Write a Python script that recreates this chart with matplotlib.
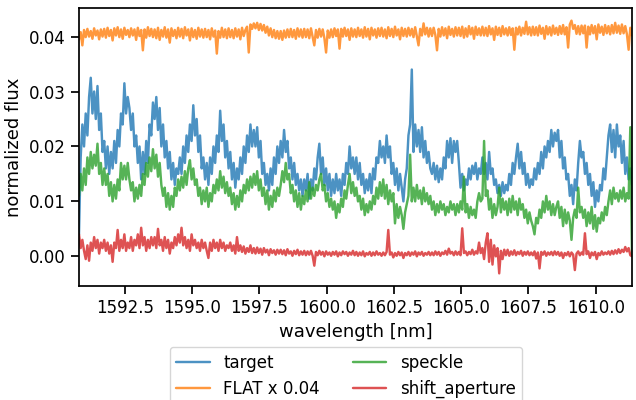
import numpy as np
import matplotlib
matplotlib.use("Agg")
import matplotlib.pyplot as plt
import seaborn as sns

# wavelength grid [nm]
wl_start, wl_end = 1590.80, 1611.35

# series values in units of 1e-3 (normalized flux), 15 samples per row
target = [
    [4, 18, 24, 20, 26, 22, 29, 32.5, 26, 30, 25, 31, 23, 26, 19],
    [21, 16, 20, 15, 19, 16, 21, 17, 23, 20, 26, 24, 31.5, 26, 29],
    [27, 23, 26, 20, 22, 17, 20, 14, 19, 15, 21, 17, 24, 22, 28],
    [25, 29, 23, 27, 20, 24, 18, 21, 16, 19, 14, 17, 13, 16, 15],
    [18, 15, 20, 17, 22, 19, 24, 21, 27.5, 22, 25, 19, 22, 16, 18],
    [14, 17, 13, 18, 15, 20, 17, 22, 19, 26.5, 21, 24, 18, 21, 16],
    [19, 14, 17, 12.5, 16, 14, 18, 15, 20, 17, 22, 19, 24, 20, 23],
    [20, 23.5, 18, 21, 15, 17, 13, 15, 12, 16, 13, 18, 15, 20, 17],
    [21, 18, 23, 19, 21, 16, 18, 14, 17, 13, 15, 12, 14, 11, 14],
    [12, 15, 10.5, 14, 12, 16, 14, 18, 20.5, 15, 18, 13, 16, 12, 15],
    [11, 14, 11.5, 15, 12, 14, 11, 15, 13, 17, 15, 20, 16, 18, 15],
    [18, 14, 17, 13, 15, 11.5, 14, 12, 15, 11.5, 16, 14, 18, 17, 21],
    [18, 20, 17, 22, 18, 20, 15, 17, 13, 16, 12, 15, 12.5, 10, 14],
    [16, 22, 24, 34, 19, 24, 20, 23, 19, 23.5, 18, 21, 17, 19, 16],
    [15, 17, 14, 16.5, 13.5, 16, 14, 18, 16, 21, 18, 21.5, 17, 21, 19],
    [21, 17, 12.5, 15, 12, 14, 13, 16, 14, 16.5, 15, 17, 14, 16, 15],
    [18, 15, 17, 14, 19, 15, 16, 13, 14, 11.5, 13, 11, 13.5, 11.5, 13],
    [12, 15, 13, 17, 15, 18, 20.5, 16, 19, 15, 17, 13, 15, 12.5, 14],
    [13, 16, 14, 17, 15, 19, 16, 20, 18, 21, 19, 23, 20, 22.5, 21],
    [23, 18, 21, 16, 18, 14, 15, 11, 13, 9.5, 14, 12, 17, 21, 18],
    [19, 15, 17, 13, 15, 11, 13.5, 9, 12, 10, 13, 12, 16, 14, 18],
    [22, 24, 19, 23, 18, 24, 20, 22, 17, 21, 15, 18, 14, 16, 13],
]

flat = [
    [39.5, 40.8, 38.4, 41.2, 39.9, 41.4, 40, 41, 39.6, 41.5, 40.2, 41.1, 39.5, 41.3, 40],
    [41.4, 39.8, 41.6, 40.1, 41.2, 39.3, 41.5, 40.2, 41.7, 39.9, 41.3, 39.6, 41.6, 40.3, 41.2],
    [39.9, 41.5, 40.2, 41.3, 39.4, 41.6, 40.1, 41.2, 37.5, 41.3, 39.8, 41.7, 40.1, 41.4, 39.9],
    [41.3, 39.7, 41.6, 39.4, 41.2, 40, 41.7, 39.8, 41.3, 38.9, 41.5, 40.1, 41.2, 39.7, 41.6],
    [40, 41.4, 39.7, 41.7, 40.2, 41.3, 39.3, 41.5, 39.9, 41.2, 39.6, 41.6, 40, 41.3, 39.8],
    [41.4, 39.9, 41.2, 39.5, 41.5, 40, 41.1, 36.9, 41, 39.8, 41.6, 39.9, 41.3, 39.7, 41.5],
    [39.9, 41.2, 39.7, 41.5, 40, 41.3, 39.5, 41.6, 40.1, 41.2, 41.8, 37.1, 42.2, 41.4, 42.4],
    [41.5, 42.5, 41.2, 42.3, 41.1, 42.1, 40.7, 41.8, 40.2, 41.5, 39.9, 41.2, 39.7, 41, 39.6],
    [41, 39.4, 41.1, 39.8, 41.3, 39.9, 41.4, 39.9, 41.2, 39.6, 41.5, 40, 41.3, 39.8, 41.4],
    [39.9, 41.3, 39.7, 41.5, 40, 38.4, 41.2, 39.8, 41.4, 40, 41.3, 39.7, 37.1, 41.1, 39.8],
    [41.3, 39.9, 41.5, 40.1, 41.3, 37.8, 41.4, 40, 41.6, 40.1, 41.3, 39.4, 41.5, 40, 41.3],
    [39.9, 41.6, 40.1, 41.3, 39.8, 41.7, 40, 41.4, 39.5, 41.6, 40.2, 41.3, 39.8, 41.5, 40.1],
    [41.6, 40, 41.3, 39.7, 41.7, 40.1, 41.4, 39.9, 41.8, 40.2, 41.3, 39.5, 41.6, 40.1, 41.4],
    [40, 41.6, 40.2, 41.4, 39.9, 41.7, 40.1, 38.4, 41.4, 40.2, 42.4, 40.4, 41.6, 40, 41.5],
    [40.1, 41.6, 40.3, 37.5, 41.4, 40, 41.7, 40.2, 41.5, 39.7, 41.8, 40.3, 41.4, 40, 41.7],
    [40.2, 41.6, 40.1, 41.8, 39.8, 41.5, 40, 41.9, 40.4, 41.6, 39.6, 41.8, 40.3, 41.5, 40.2],
    [41.8, 40.2, 41.6, 40.1, 41.9, 40.4, 41.5, 39.4, 41.8, 40.3, 41.6, 40.1, 41.9, 40.4, 41.5],
    [40.2, 41.7, 40.3, 41.5, 37.6, 41.6, 40.4, 41.8, 40.2, 41.6, 40.5, 42.7, 40.4, 41.7, 40.2],
    [41.8, 40.3, 41.7, 40.2, 42, 40.5, 41.6, 39.6, 41.9, 40.4, 41.7, 40.2, 42, 40.5, 41.6],
    [40.3, 41.9, 40.5, 42.1, 40.4, 41.7, 38, 42.2, 42.9, 41.4, 42.1, 40.5, 41.9, 40.4, 42],
    [40.6, 42, 38, 41.8, 40.4, 42.1, 40.6, 41.9, 39.5, 42.2, 40.7, 41.8, 40.3, 42.1, 40.6],
    [41.9, 40.4, 42.1, 40.6, 42.5, 40.7, 42, 40.5, 42.2, 40.6, 41.9, 40.4, 37.6, 41.6, 40.2],
]

speckle = [
    [11, 15, 12, 16, 13, 18, 15, 19, 16, 18.5, 16.5, 20.5, 15, 17, 13],
    [16, 13, 15, 11, 13.5, 10, 13, 10.5, 14, 12, 17, 14, 16.5, 14, 17],
    [14, 12, 13.5, 10, 12.5, 10.5, 13, 11, 15, 13, 17, 14.5, 18, 15.5, 19.5],
    [16, 18.5, 14.5, 17, 13, 11, 12.5, 9, 11.5, 8.5, 11, 9, 12.5, 11, 14],
    [12, 14.5, 12.5, 15.5, 13, 16, 17.5, 14, 16, 13, 14, 11, 12.5, 9.5, 12],
    [10, 12.5, 9, 11.5, 10, 13, 11.5, 14, 12, 15.5, 12.5, 14.5, 11.5, 13.5, 11],
    [12.5, 9.5, 11.5, 8.5, 11, 9, 12, 10, 13, 11.5, 14, 12, 14.5, 12.5, 15],
    [13, 15.5, 12, 14, 11, 12.5, 9.5, 12, 8.5, 11, 9, 12, 10, 12.5, 11],
    [13, 15.5, 13.5, 17, 14, 15, 11.5, 13, 10, 12, 9, 11.5, 8.5, 11, 9.5],
    [12, 10, 13.5, 10.5, 12.5, 11, 13, 12, 14, 15, 12, 13, 10, 11.5, 9],
    [10.5, 8.5, 10, 7, 9.5, 8, 10.5, 9, 12, 10.5, 13, 15, 11.5, 13.5, 11],
    [12.5, 10, 11, 8.5, 10.5, 7.5, 9.5, 8, 10, 8.5, 11, 9.5, 12.5, 10.5, 13.5],
    [11, 14, 10.5, 13, 9.5, 12, 10, 11.5, 6, 9.5, 7, 9, 7.5, 5, 8],
    [9.5, 11, 18.5, 10, 12.5, 10, 13, 10.5, 12, 9.5, 12.5, 10, 11.5, 9.5, 11],
    [8.5, 10, 7.5, 9.5, 8, 10, 8.5, 9.5, 7.5, 9, 8, 10, 8.5, 9.5, 7.5],
    [9.5, 8, 10, 8.5, 14.5, 8, 9.5, 7, 9, 7.5, 8.5, 7, 10, 11.5, 10],
    [10.5, 21, 11, 12, 8.5, 10.5, 7, 9.5, 7.5, 9, 12.5, 8, 10.5, 8.5, 10],
    [7.5, 10.5, 8, 11, 8.5, 10, 7.5, 10.5, 8.5, 9.5, 7, 8.5, 6, 8, 6.5],
    [5.5, 4, 7, 6, 8.5, 7, 10, 8, 11, 8.5, 10, 7.5, 9.5, 7.5, 9],
    [10, 7, 9, 5.5, 8.5, 6, 8, 6.5, 3, 7, 8.5, 7, 12.5, 8, 9],
    [7, 8.5, 5.5, 8, 6, 9, 5, 7.5, 4.5, 7, 6, 8, 6.5, 9, 7.5],
    [10, 12, 9.5, 12.5, 10.5, 11.5, 10, 12, 10.5, 12.5, 10, 11.5, 10.5, 23.5, 0.3],
]

shift_aperture = [
    [4, 1.5, 3, 1, -0.5, 2, -0.8, 2.5, 1, 3.5, 1.5, 3, 0.5, 2.5, 1.5],
    [3, 1, 2.5, 0.5, 2, -1, 2.5, 1.5, 4.8, 1, 3, 1.5, 4, 1, 2.5],
    [1.5, 3.5, 1, 3, 2, 4, 1.5, 5.2, 2, 3.5, 1, 3, 1.5, 3.5, 2],
    [3.5, 1.5, 5, 2, 3, 1, 3.5, 1.5, 3, 0.5, 2.5, 1.5, 3.5, 2, 4],
    [2.5, 5.2, 2, 3.5, 1.5, 3, 1, 4, 2, 3, 1.5, 2.5, 1, 3, 1.5],
    [2.5, 1, -0.3, 2.5, 1, 3, 1.5, 2.5, 1, 3, 1.5, 2.5, 1, 2, 1.5],
    [2.5, 1, 2, 0.5, 3.5, 1, 2, 0.8, 1.8, 0.5, 1.5, 0.8, 2, 0.6, 1.5],
    [0.5, 1.6, 0.6, 1.4, 0.3, 1.5, 0.7, 1.2, 0.2, 1.3, 0.6, 1.1, 0.3, 1.2, 0.5],
    [1.2, 0.4, 1.1, 0.2, 1.3, 0.5, 0.9, 0.1, 1.0, 0.4, 1.2, 0.2, 0.9, 0.3, 1.0],
    [0.2, 0.9, 0.3, 1.0, 0.1, -1.7, 0.8, 0.2, 1.0, 0.3, 0.8, 0.0, 0.9, 0.3, 0.7],
    [0.1, 0.8, 0.3, 0.9, 0.0, 0.7, 0.2, 0.9, 0.4, 0.8, 0.1, 0.7, 0.3, 1.0, 0.2],
    [0.8, 0.1, 0.7, 0.2, 0.9, 0.0, 0.6, 0.3, 0.8, 0.1, 0.7, 0.2, 0.9, 0.3, 0.6],
    [0.1, 0.7, 0.2, 0.8, 4.8, 0.3, 0.7, -0.2, 0.6, 0.1, 0.8, 0.2, 0.7, -0.3, 0.6],
    [0.2, 0.8, 0.1, 0.7, 0.3, 0.9, 0.0, 0.7, 0.3, 0.8, 0.1, 0.6, 0.3, 0.8, 0.2],
    [0.7, 0.2, 0.9, 0.3, 0.8, 0.1, 0.7, 0.4, 1.0, 0.3, 1.4, 0.5, 0.8, 0.2, 0.9],
    [0.3, 0.8, 0.2, 5.1, 0.6, 0.9, 0.2, 0.8, 0.4, 1.2, 0.3, 0.9, 0.5, 2.5, 0.6],
    [1.5, -0.5, 2.5, 4.2, -1, 3, -1.5, 2, 0, 1.5, -3.1, 1, -0.5, 1.2, 0.2],
    [1.2, 0.1, 0.9, 0.3, 1.1, 0.2, 0.8, 0.4, 1.0, 0.1, 0.8, 0.3, 0.9, 0.2, 0.7],
    [0.2, 0.9, -0.4, 0.7, -2.2, 0.8, 0.3, 0.9, 0.1, 0.7, 0.3, 0.8, 0.2, 0.9, 0.3],
    [0.8, 0.1, 0.7, -0.3, 0.6, 0.2, 0.8, 0.0, 0.7, 0.3, -2.5, 0.5, 0.9, 0.2, 0.7],
    [0.3, 4.2, 0.4, 0.9, -0.3, 0.7, 0.2, 0.8, -0.5, 0.6, 0.2, 0.9, 0.3, 0.7, 0.4],
    [0.9, 0.3, 1.0, 0.4, 1.1, 0.5, 1.3, 0.6, 1.2, 0.8, 1.7, 0.9, 1.5, 0.2, 0.0],
]

labels = ["target", "FLAT x 0.04", "speckle", "shift_aperture"]

sns.set_theme(style="ticks", context="notebook")
plt.rcParams["font.family"] = ["DejaVu Sans"]

series = [target, flat, speckle, shift_aperture]
arrays = [np.asarray(s, dtype=float).ravel() * 1e-3 for s in series]
wl = np.linspace(wl_start, wl_end, arrays[0].size)

fig = plt.figure(figsize=(6.36, 4.0), dpi=100)
ax = fig.add_axes([0.1242, 0.285, 0.8695, 0.695])
colors = ["tab:blue", "tab:orange", "tab:green", "tab:red"]
for y, lab, c in zip(arrays, labels, colors):
    ax.plot(wl, y, color=c, alpha=0.8, lw=1.75, label=lab)

ax.set_xlim(wl[0], wl[-1])
ax.tick_params(labelsize=12, colors="black", labelcolor="black")
for sp in ax.spines.values():
    sp.set_color("black")
ax.set_xlabel("wavelength [nm]", fontsize=13, color="black")
ax.set_ylabel("normalized flux", fontsize=13, color="black")
leg = fig.legend(loc="upper center", bbox_to_anchor=(346 / 636, 1 - 347 / 400),
                 ncol=2, fontsize=12, borderaxespad=0)
for t in leg.get_texts():
    t.set_color("black")
fig.savefig("out.png", dpi=100)
